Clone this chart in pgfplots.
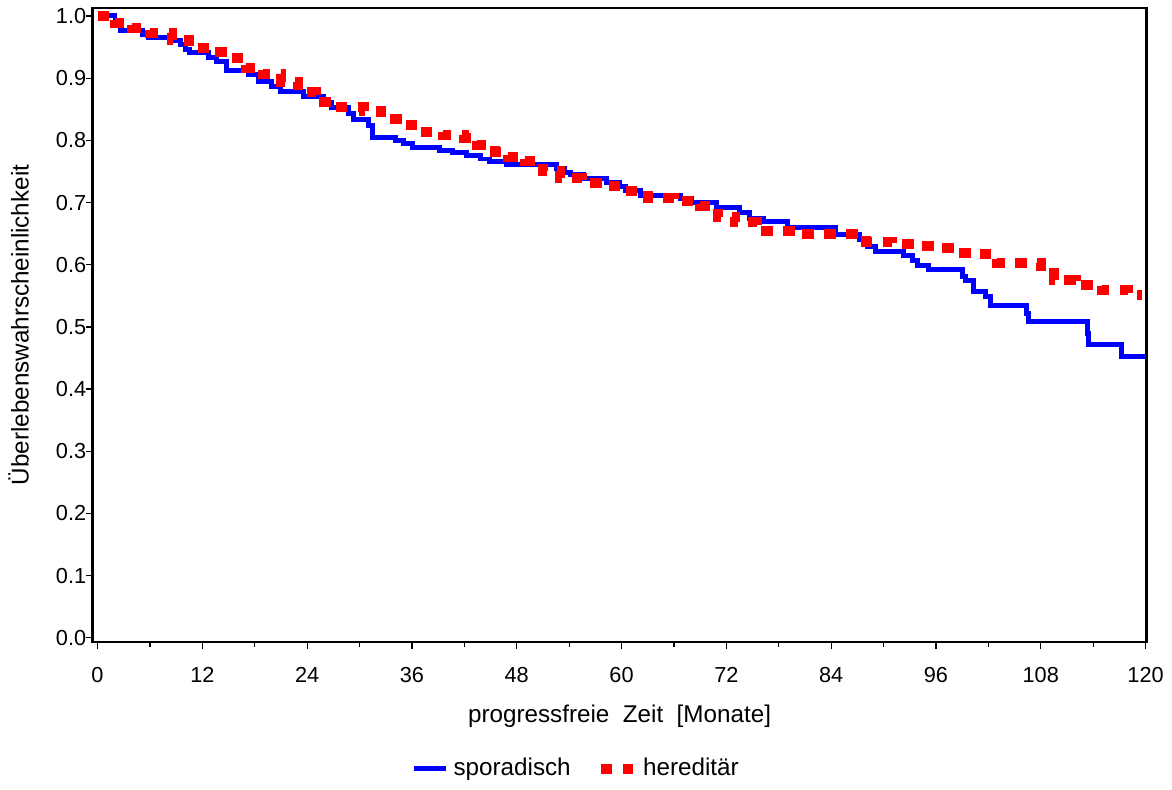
\documentclass[border=0pt]{standalone}
\usepackage{fontspec}
\setmainfont{Liberation Sans}
\usepackage{pgfplots}
\pgfplotsset{compat=1.18}
\definecolor{kmBlue}{HTML}{0000FF}
\definecolor{kmRed}{HTML}{FF0000}

\begin{document}
\begin{tikzpicture}
\begin{axis}[
  scale only axis,
  width=422pt, height=254pt,
  xmin=-0.55, xmax=120.1, ymin=-0.007, ymax=1.013,
  xtick={0,12,...,120},
  minor xtick={6,18,...,114},
  ytick={0,0.1,...,1.0},
  xtick pos=left, ytick pos=left,
  tick align=outside,
  major tick length=2.6pt, minor tick length=1.8pt,
  every tick/.style={black, line width=0.5pt},
  axis line style={black, line width=1pt},
  yticklabel style={xshift=3.5pt, /pgf/number format/.cd, fixed, fixed zerofill, precision=1},
  /pgf/number format/assume math mode=true,
  tick label style={font=\fontsize{8.7}{10}\selectfont},
  xticklabel style={yshift=-4pt},
  xlabel={progressfreie\ \ Zeit\ \ [Monate]},
  ylabel={Überlebenswahrscheinlichkeit},
  label style={font=\fontsize{9.7}{11}\selectfont},
  xlabel style={yshift=-2pt},
  ylabel style={yshift=4pt},
  legend style={at={(0.46,-0.166)}, anchor=north, draw=none, fill=none,
    legend columns=2, font=\fontsize{9.7}{11}\selectfont,
    /tikz/every even column/.append style={column sep=8pt}},
  legend image code/.code={\draw[#1] (0pt,0pt) -- (13pt,0pt);},
]
\addplot[const plot, kmBlue, line width=2pt] coordinates {
(0,1.0) (2,0.99) (2.6,0.977) (5.1,0.971) (5.8,0.966) (8.3,0.960) (9.5,0.954)
(10.1,0.946) (10.5,0.941) (12.7,0.933) (13.6,0.927) (14.8,0.912) (17.3,0.906)
(18.4,0.895) (19.9,0.887) (20.9,0.878) (23.6,0.870) (25.9,0.861) (26.8,0.853)
(28.7,0.843) (29.3,0.833) (31,0.824) (31.5,0.805) (34.1,0.800) (35,0.795)
(36.1,0.789) (39.2,0.784) (40.7,0.780) (42.3,0.776) (43.8,0.770) (44.9,0.766)
(46.8,0.761) (52.5,0.754) (53.5,0.749) (54.2,0.745) (55.6,0.738) (58.3,0.733)
(59.8,0.726) (60.5,0.719) (62.2,0.711) (66.8,0.706) (68,0.700) (70.9,0.692)
(73.5,0.684) (74.6,0.674) (76.3,0.669) (79,0.660) (84.5,0.649) (87.2,0.641)
(88.2,0.630) (89.1,0.622) (92.3,0.615) (93.3,0.606) (93.9,0.598) (95.2,0.592)
(99,0.581) (99.4,0.575) (100.3,0.557) (101.7,0.549) (102.2,0.535) (106.4,0.522)
(106.6,0.508) (113.3,0.489) (113.5,0.471) (117.3,0.452) (120,0.452)
};
\addlegendentry{sporadisch}
\addplot[const plot, kmRed, line width=4pt, dash pattern=on 4.6pt off 4.2pt] coordinates {
(0,1.0) (2,0.989) (4,0.981) (6,0.973) (8.5,0.962) (10.5,0.949) (13,0.942)
(15,0.933) (17,0.916) (19,0.906) (21,0.894) (23,0.877) (25,0.862) (27,0.853)
(30.5,0.847) (32.5,0.835) (35,0.824) (37,0.813) (39.5,0.808) (42,0.804)
(43.5,0.793) (45.5,0.782) (47,0.774) (49,0.766) (51,0.750) (53,0.739)
(55.5,0.732) (58,0.727) (60.5,0.719) (63,0.708) (66,0.703) (69,0.695)
(71,0.677) (73,0.668) (75.5,0.654) (80,0.649) (88,0.637) (91,0.633)
(93.5,0.630) (96,0.627) (98.5,0.619) (101,0.617) (103,0.603) (108,0.598)
(109.5,0.576) (112,0.568) (115,0.559) (118,0.551) (119.6,0.551)
};
\addlegendentry{hereditär}
\end{axis}
\end{tikzpicture}
\end{document}
